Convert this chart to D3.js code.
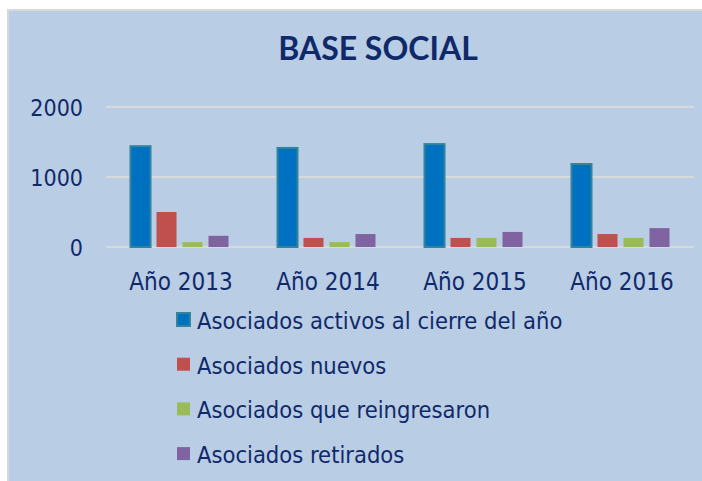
<!DOCTYPE html>
<html lang="es">
<head>
  <meta charset="UTF-8">
  <title>Base social</title>
  <script src="https://d3js.org/d3.v7.min.js"></script>
  <style>
    body { margin: 0; padding: 0; background: #ffffff; }
    svg { display: block; }
    .lbl { font-family: 'DejaVu Sans Condensed', 'DejaVu Sans', sans-serif; fill: #10296a; }
  </style>
</head>
<body>
  <svg id="chart"></svg>
  <script>
    // data
    const categories = ["Año 2013", "Año 2014", "Año 2015", "Año 2016"];
    const seriesNames = [
      "Asociados activos al cierre del año",
      "Asociados nuevos",
      "Asociados que reingresaron",
      "Asociados retirados"
    ];
    const activos = [1440, 1415, 1470, 1185];
    const nuevos = [500, 130, 130, 185];
    const reingresos = [70, 70, 130, 130];
    const retirados = [160, 185, 215, 270];
    const yTicks = [0, 1000, 2000];

    const seriesValues = [activos, nuevos, reingresos, retirados];
    const colors = ["#0070c0", "#c0504d", "#9bbb59", "#8064a2"];

    const width = 702, height = 481;
    const svg = d3.select("#chart").attr("width", width).attr("height", height);

    // chart panel
    svg.append("rect")
      .attr("x", 8).attr("y", 10)
      .attr("width", 702).attr("height", 480)
      .attr("fill", "#b9cde5")
      .attr("stroke", "#d9d9d9").attr("stroke-width", 2);

    svg.append("text")
      .attr("x", 378).attr("y", 60)
      .attr("text-anchor", "middle")
      .attr("font-family", "Lato, 'Open Sans', sans-serif")
      .attr("font-weight", "bold")
      .attr("font-size", 32)
      .attr("fill", "#10296a")
      .text("BASE SOCIAL");

    const x = d3.scaleBand().domain(categories).range([106, 694]);
    const xs = d3.scaleBand().domain(d3.range(4))
      .range([0, 98]).paddingInner(0.23).paddingOuter(0);
    const y = d3.scaleLinear().domain([0, 2000]).range([247, 107]);

    // gridlines
    svg.append("g").selectAll("line").data(yTicks).join("line")
      .attr("x1", 106).attr("x2", 694)
      .attr("y1", d => y(d)).attr("y2", d => y(d))
      .attr("stroke", "#d9d9d9").attr("stroke-width", 2);

    // y labels
    svg.append("g").selectAll("text").data(yTicks).join("text")
      .attr("class", "lbl")
      .attr("x", 83).attr("y", d => y(d) + 8.5)
      .attr("text-anchor", "end")
      .attr("font-size", 23)
      .text(d => d);

    // bars
    const groups = svg.append("g").selectAll("g").data(categories).join("g")
      .attr("transform", d => `translate(${x(d) + (x.bandwidth() - 98) / 2},0)`);

    groups.selectAll("rect")
      .data((c, ci) => seriesValues.map((vals, si) => ({ si, v: vals[ci] })))
      .join("rect")
      .attr("x", d => xs(d.si))
      .attr("y", d => y(d.v))
      .attr("width", xs.bandwidth())
      .attr("height", d => y(0) - y(d.v))
      .attr("fill", d => colors[d.si])
      .attr("stroke", d => d.si === 0 ? "#31849b" : "none")
      .attr("stroke-width", 2);

    // category labels
    svg.append("g").selectAll("text").data(categories).join("text")
      .attr("class", "lbl")
      .attr("x", d => x(d) + x.bandwidth() / 2 + 1.5)
      .attr("y", 290)
      .attr("text-anchor", "middle")
      .attr("font-size", 24)
      .text(d => d);

    // legend
    const legend = svg.append("g").selectAll("g").data(seriesNames).join("g")
      .attr("transform", (d, i) => `translate(177,${320 + i * 44.7})`);

    legend.append("rect")
      .attr("x", 0).attr("y", -7)
      .attr("width", 13).attr("height", 13)
      .attr("fill", (d, i) => colors[i])
      .attr("stroke", (d, i) => i === 0 ? "#31849b" : "none")
      .attr("stroke-width", 2);

    legend.append("text")
      .attr("class", "lbl")
      .attr("x", 20).attr("y", 9)
      .attr("font-size", 23.5)
      .text(d => d);
  </script>
</body>
</html>
